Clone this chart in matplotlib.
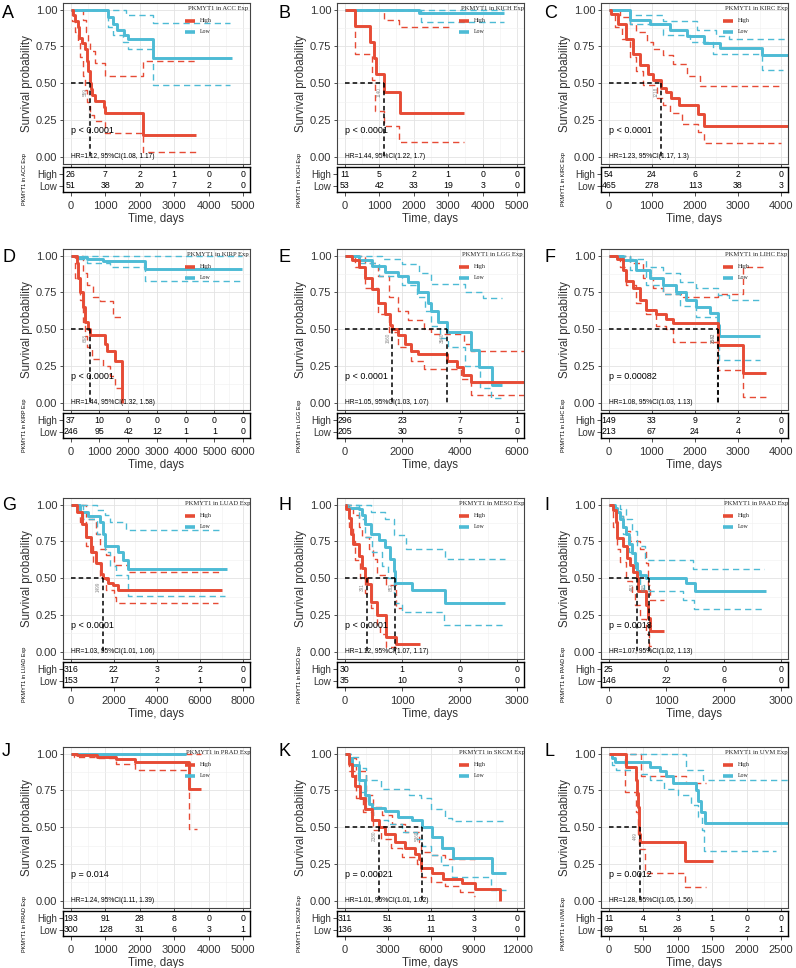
import matplotlib
matplotlib.use("Agg")
import matplotlib.pyplot as plt

plt.rcParams["font.family"] = ["Liberation Sans", "DejaVu Sans"]

RED = "#E64B35"
BLUE = "#4DBBD5"

# ---------------- data ----------------
# each curve: (time, survival) step points, last point = end of follow-up

# A  ACC
ACC_HIGH = [(0, 1.0), (60, 0.96), (130, 0.92), (200, 0.88), (250, 0.81), (330, 0.77), (400, 0.73),
            (460, 0.65), (510, 0.58), (550, 0.50), (590, 0.46), (630, 0.42), (700, 0.38), (960, 0.34),
            (1000, 0.30), (2110, 0.15), (3630, 0.15)]
ACC_HIGH_UP = [(0, 1.0), (360, 0.93), (430, 0.85), (500, 0.78), (560, 0.72), (700, 0.64), (990, 0.55),
               (2110, 0.65), (3630, 0.65)]
ACC_HIGH_LO = [(0, 1.0), (50, 0.92), (120, 0.85), (200, 0.78), (280, 0.68), (350, 0.55), (420, 0.45),
               (480, 0.37), (560, 0.28), (680, 0.24), (990, 0.16), (2110, 0.03), (3630, 0.03)]
ACC_LOW = [(0, 1.0), (1080, 0.95), (1230, 0.90), (1330, 0.86), (1550, 0.83), (1660, 0.80), (2400, 0.67),
           (4680, 0.67)]
ACC_LOW_UP = [(0, 1.0), (1600, 0.96), (2400, 0.91), (4620, 0.91)]
ACC_LOW_LO = [(0, 1.0), (1080, 0.88), (1230, 0.83), (1520, 0.78), (1660, 0.73), (2400, 0.49), (4620, 0.49)]
ACC_RISK_HIGH = [26, 7, 2, 1, 0, 0]
ACC_RISK_LOW = [51, 38, 20, 7, 2, 0]
ACC_MEDIANS = [559]

# B  KICH
KICH_HIGH = [(0, 1.0), (300, 0.89), (740, 0.78), (840, 0.67), (910, 0.56), (1140, 0.44), (1600, 0.30),
             (3470, 0.30)]
KICH_HIGH_UP = [(0, 1.0), (1140, 0.93), (1580, 0.88), (3080, 0.88)]
KICH_HIGH_LO = [(0, 1.0), (290, 0.70), (790, 0.52), (890, 0.31), (1140, 0.21), (1580, 0.10), (3470, 0.10)]
KICH_LOW = [(0, 1.0), (2160, 0.975), (4620, 0.975)]
KICH_LOW_UP = [(0, 1.0), (4620, 1.0)]
KICH_LOW_LO = [(0, 1.0), (2200, 0.915), (4620, 0.915)]
KICH_RISK_HIGH = [11, 5, 2, 1, 0, 0]
KICH_RISK_LOW = [53, 42, 33, 19, 3, 0]
KICH_MEDIANS = [1140]

# C  KIRC
KIRC_HIGH = [(0, 1.0), (60, 0.97), (220, 0.90), (410, 0.80), (570, 0.70), (720, 0.62), (920, 0.56),
             (1030, 0.52), (1220, 0.47), (1340, 0.44), (1450, 0.40), (1620, 0.35), (2080, 0.29),
             (2200, 0.21), (4220, 0.21)]
KIRC_HIGH_UP = [(0, 1.0), (250, 0.95), (490, 0.90), (640, 0.85), (880, 0.78), (1030, 0.73), (1260, 0.69),
                (1500, 0.63), (1810, 0.55), (2120, 0.48), (3990, 0.48)]
KIRC_HIGH_LO = [(0, 1.0), (140, 0.88), (300, 0.80), (490, 0.68), (640, 0.58), (800, 0.49), (1110, 0.40),
                (1260, 0.35), (1420, 0.30), (1690, 0.22), (2080, 0.165), (2200, 0.09), (3990, 0.09)]
KIRC_LOW = [(0, 1.0), (490, 0.93), (955, 0.90), (1420, 0.86), (1810, 0.82), (2200, 0.77), (2590, 0.74),
            (3560, 0.69), (4220, 0.69)]
KIRC_LOW_UP = [(0, 1.0), (490, 0.96), (1260, 0.92), (2040, 0.86), (2500, 0.82), (2800, 0.80), (4200, 0.80)]
KIRC_LOW_LO = [(0, 1.0), (490, 0.90), (1260, 0.83), (1880, 0.78), (2430, 0.70), (3560, 0.59), (4050, 0.59)]
KIRC_RISK_HIGH = [54, 24, 6, 2, 0]
KIRC_RISK_LOW = [465, 278, 113, 38, 3]
KIRC_MEDIANS = [1218]

# D  KIRP
KIRP_HIGH = [(0, 1.0), (210, 0.95), (265, 0.85), (320, 0.75), (415, 0.65), (510, 0.55), (610, 0.50),
             (670, 0.46), (1190, 0.40), (1250, 0.35), (1530, 0.28), (1800, 0.0)]
KIRP_HIGH_UP = [(0, 1.0), (440, 0.88), (560, 0.80), (760, 0.72), (1010, 0.69), (1470, 0.58), (1760, 0.58)]
KIRP_HIGH_LO = [(0, 1.0), (150, 0.85), (320, 0.70), (440, 0.55), (500, 0.45), (580, 0.38), (730, 0.30),
                (1130, 0.25), (1360, 0.18), (1530, 0.10), (1800, 0.0)]
KIRP_LOW = [(0, 1.0), (210, 0.99), (550, 0.98), (1130, 0.96), (2590, 0.91), (5970, 0.91)]
KIRP_LOW_UP = [(0, 1.0), (5970, 1.0)]
KIRP_LOW_LO = [(0, 1.0), (210, 0.98), (550, 0.95), (1360, 0.92), (2590, 0.83), (5970, 0.83)]
KIRP_RISK_HIGH = [37, 10, 0, 0, 0, 0, 0]
KIRP_RISK_LOW = [246, 95, 42, 12, 1, 1, 0]
KIRP_MEDIANS = [668]

# E  LGG
LGG_HIGH = [(0, 1.0), (250, 0.97), (480, 0.92), (710, 0.85), (940, 0.77), (1170, 0.68), (1400, 0.60),
            (1570, 0.53), (1660, 0.50), (1860, 0.46), (2090, 0.40), (2320, 0.35), (2550, 0.33),
            (3560, 0.28), (3900, 0.24), (4100, 0.19), (4390, 0.14), (6230, 0.14)]
LGG_HIGH_UP = [(0, 1.0), (710, 0.95), (1170, 0.86), (1530, 0.72), (1860, 0.62), (2200, 0.56), (2760, 0.50),
               (3000, 0.47), (4160, 0.40), (4390, 0.35), (6230, 0.35)]
LGG_HIGH_LO = [(0, 1.0), (370, 0.92), (710, 0.78), (1170, 0.60), (1530, 0.48), (1860, 0.38), (2320, 0.28),
               (2760, 0.23), (4050, 0.16), (4390, 0.05), (6230, 0.05)]
LGG_LOW = [(0, 1.0), (480, 0.97), (940, 0.93), (1400, 0.89), (1860, 0.86), (2200, 0.82), (2550, 0.75),
           (2900, 0.68), (3010, 0.62), (3240, 0.55), (3560, 0.48), (4390, 0.36), (4680, 0.24),
           (5140, 0.12), (5480, 0.12)]
LGG_LOW_UP = [(0, 1.0), (1300, 0.98), (2000, 0.94), (2600, 0.88), (3000, 0.81), (4200, 0.75), (4800, 0.71),
              (5480, 0.71)]
LGG_LOW_LO = [(0, 1.0), (500, 0.95), (1200, 0.86), (2000, 0.80), (2500, 0.72), (2800, 0.62), (3000, 0.52),
              (3300, 0.44), (3600, 0.38), (4200, 0.25), (4700, 0.10), (5100, 0.03), (5480, 0.03)]
LGG_RISK_HIGH = [296, 23, 7, 1]
LGG_RISK_LOW = [205, 30, 5, 0]
LGG_MEDIANS = [1660, 3560]

# F  LIHC
LIHC_HIGH = [(0, 1.0), (180, 0.98), (330, 0.90), (410, 0.83), (560, 0.78), (720, 0.70), (870, 0.63),
             (1100, 0.60), (1340, 0.57), (1490, 0.54), (2530, 0.39), (3110, 0.20), (3650, 0.20)]
LIHC_HIGH_UP = [(0, 1.0), (490, 0.95), (800, 0.85), (1030, 0.78), (1260, 0.74), (1720, 0.72), (2530, 0.74),
                (3110, 0.92), (3650, 0.92)]
LIHC_HIGH_LO = [(0, 1.0), (250, 0.92), (410, 0.80), (640, 0.68), (870, 0.60), (1100, 0.52), (1340, 0.50),
                (1490, 0.41), (2530, 0.22), (3110, 0.04), (3650, 0.04)]
LIHC_LOW = [(0, 1.0), (330, 0.97), (640, 0.90), (950, 0.85), (1260, 0.80), (1570, 0.75), (1800, 0.70),
            (2030, 0.65), (2340, 0.61), (2530, 0.53), (2570, 0.45), (3500, 0.45)]
LIHC_LOW_UP = [(0, 1.0), (490, 0.98), (870, 0.92), (1260, 0.88), (1650, 0.82), (2030, 0.78), (2530, 0.73),
               (2800, 0.70), (3500, 0.70)]
LIHC_LOW_LO = [(0, 1.0), (490, 0.90), (870, 0.80), (1260, 0.74), (1650, 0.66), (2030, 0.58), (2530, 0.42),
               (2570, 0.29), (3500, 0.29)]
LIHC_RISK_HIGH = [149, 33, 9, 2, 0]
LIHC_RISK_LOW = [213, 67, 24, 4, 0]
LIHC_MEDIANS = [2532, 2542]

# G  LUAD
LUAD_HIGH = [(0, 1.0), (275, 0.95), (500, 0.87), (730, 0.78), (960, 0.68), (1190, 0.60), (1420, 0.53),
             (1500, 0.50), (1730, 0.47), (1960, 0.45), (2190, 0.42), (7000, 0.42)]
LUAD_HIGH_UP = [(0, 1.0), (730, 0.90), (1190, 0.80), (1350, 0.70), (1650, 0.66), (2030, 0.59), (2650, 0.54),
                (7000, 0.54)]
LUAD_HIGH_LO = [(0, 1.0), (430, 0.88), (730, 0.72), (1040, 0.60), (1350, 0.50), (1650, 0.42), (2030, 0.37),
                (2100, 0.33), (6850, 0.33)]
LUAD_LOW = [(0, 1.0), (430, 0.95), (810, 0.92), (1345, 0.88), (1500, 0.80), (1600, 0.72), (2190, 0.68),
            (2420, 0.62), (2650, 0.56), (7230, 0.56)]
LUAD_LOW_UP = [(0, 1.0), (1200, 0.96), (1575, 0.93), (1800, 0.88), (2570, 0.83), (7000, 0.83)]
LUAD_LOW_LO = [(0, 1.0), (580, 0.90), (1200, 0.80), (1575, 0.68), (1800, 0.58), (2100, 0.52), (2650, 0.38),
               (7150, 0.38)]
LUAD_RISK_HIGH = [316, 22, 3, 2, 0]
LUAD_RISK_LOW = [153, 17, 2, 1, 0]
LUAD_MEDIANS = [1499]

# H  MESO
MESO_HIGH = [(0, 1.0), (30, 0.97), (70, 0.91), (100, 0.80), (140, 0.73), (240, 0.65), (300, 0.57),
             (360, 0.50), (390, 0.46), (460, 0.34), (560, 0.25), (720, 0.10), (900, 0.05), (1310, 0.05)]
MESO_HIGH_UP = [(0, 1.0), (140, 0.93), (240, 0.85), (300, 0.78), (420, 0.70), (490, 0.63), (560, 0.52),
                (720, 0.45), (900, 0.30), (1000, 0.30)]
MESO_HIGH_LO = [(0, 1.0), (70, 0.85), (140, 0.75), (180, 0.62), (270, 0.50), (360, 0.40), (460, 0.30),
                (560, 0.18), (620, 0.12), (720, 0.03), (900, 0.03)]
MESO_LOW = [(0, 1.0), (40, 0.98), (240, 0.97), (300, 0.93), (360, 0.87), (450, 0.80), (590, 0.76),
            (705, 0.71), (790, 0.63), (850, 0.55), (880, 0.47), (1170, 0.42), (1745, 0.33), (2790, 0.33)]
MESO_LOW_UP = [(0, 1.0), (450, 0.95), (705, 0.90), (850, 0.79), (1060, 0.70), (1745, 0.63), (2790, 0.63)]
MESO_LOW_LO = [(0, 1.0), (240, 0.90), (360, 0.78), (475, 0.68), (650, 0.58), (760, 0.50), (850, 0.40),
               (880, 0.33), (1000, 0.27), (1720, 0.18), (2790, 0.18)]
MESO_RISK_HIGH = [30, 1, 0, 0]
MESO_RISK_LOW = [35, 10, 3, 0]
MESO_MEDIANS = [391, 882]

# I  PAAD
PAAD_HIGH = [(0, 1.0), (75, 0.96), (120, 0.88), (145, 0.77), (250, 0.72), (310, 0.64), (365, 0.59),
             (420, 0.54), (490, 0.50), (510, 0.41), (650, 0.32), (680, 0.23), (720, 0.14), (970, 0.14)]
PAAD_HIGH_UP = [(0, 1.0), (130, 0.92), (250, 0.82), (365, 0.75), (540, 0.70), (650, 0.60), (690, 0.45),
                (720, 0.35), (970, 0.35)]
PAAD_HIGH_LO = [(0, 1.0), (80, 0.85), (150, 0.70), (200, 0.61), (300, 0.48), (400, 0.40), (450, 0.32),
                (550, 0.22), (650, 0.12), (700, 0.04), (770, 0.04)]
PAAD_LOW = [(0, 1.0), (100, 0.98), (150, 0.95), (200, 0.90), (250, 0.85), (300, 0.80), (350, 0.73),
            (400, 0.67), (450, 0.60), (500, 0.55), (550, 0.52), (650, 0.50), (1350, 0.47), (1500, 0.41),
            (2740, 0.41)]
PAAD_LOW_UP = [(0, 1.0), (200, 0.97), (300, 0.90), (400, 0.82), (500, 0.72), (625, 0.62), (1460, 0.56),
               (2700, 0.56)]
PAAD_LOW_LO = [(0, 1.0), (150, 0.92), (250, 0.80), (350, 0.68), (450, 0.55), (550, 0.45), (620, 0.41),
               (1290, 0.35), (1490, 0.29), (2700, 0.29)]
PAAD_RISK_HIGH = [25, 0, 0, 0]
PAAD_RISK_LOW = [146, 22, 6, 0]
PAAD_MEDIANS = [483, 695]

# J  PRAD
PRAD_HIGH = [(0, 1.0), (170, 0.99), (750, 0.98), (1320, 0.96), (1850, 0.94), (3440, 0.76), (3770, 0.76)]
PRAD_HIGH_UP = [(0, 1.0), (3770, 1.0)]
PRAD_HIGH_LO = [(0, 1.0), (100, 0.98), (800, 0.97), (1300, 0.93), (1850, 0.89), (3440, 0.49), (3650, 0.49)]
PRAD_LOW = [(0, 1.0), (3340, 1.0)]
PRAD_LOW_UP = [(0, 1.0), (3340, 1.0)]
PRAD_LOW_LO = [(0, 1.0), (900, 0.995), (3340, 0.995)]
PRAD_RISK_HIGH = [193, 91, 28, 8, 0, 0]
PRAD_RISK_LOW = [300, 128, 31, 6, 3, 1]
PRAD_MEDIANS = []

# K  SKCM
SKCM_HIGH = [(0, 1.0), (280, 0.93), (510, 0.85), (740, 0.78), (1090, 0.70), (1430, 0.62), (1900, 0.55),
             (2380, 0.50), (2820, 0.45), (3510, 0.40), (4210, 0.36), (4900, 0.32), (5180, 0.28),
             (5290, 0.22), (6060, 0.19), (6870, 0.15), (8140, 0.12), (9060, 0.08), (10800, 0.0)]
SKCM_HIGH_UP = [(0, 1.0), (300, 0.97), (800, 0.88), (1500, 0.72), (2000, 0.64), (2600, 0.58), (3300, 0.52),
                (4200, 0.47), (5200, 0.40), (5300, 0.33), (6100, 0.31), (7000, 0.28), (9060, 0.28)]
SKCM_HIGH_LO = [(0, 1.0), (300, 0.88), (800, 0.70), (1300, 0.60), (2000, 0.48), (2500, 0.42), (3200, 0.36),
                (4000, 0.30), (5000, 0.25), (5300, 0.16), (6000, 0.13), (7000, 0.10), (8000, 0.06),
                (9000, 0.03), (9060, 0.03)]
SKCM_LOW = [(0, 1.0), (280, 0.97), (510, 0.92), (970, 0.82), (1430, 0.72), (1660, 0.66), (1900, 0.63),
            (2820, 0.61), (3740, 0.57), (4670, 0.55), (5360, 0.50), (6060, 0.43), (6750, 0.36),
            (7560, 0.29), (10220, 0.19), (11260, 0.19)]
SKCM_LOW_UP = [(0, 1.0), (500, 0.98), (1000, 0.90), (1500, 0.82), (2500, 0.76), (4500, 0.72), (5300, 0.70),
               (6000, 0.62), (7000, 0.56), (7500, 0.54), (11200, 0.54)]
SKCM_LOW_LO = [(0, 1.0), (500, 0.87), (1000, 0.74), (1500, 0.62), (2000, 0.55), (3000, 0.52), (4000, 0.47),
               (5000, 0.42), (5400, 0.37), (6000, 0.31), (6700, 0.24), (7500, 0.16), (10200, 0.07),
               (11200, 0.07)]
SKCM_RISK_HIGH = [311, 51, 11, 3, 0]
SKCM_RISK_LOW = [136, 36, 11, 3, 0]
SKCM_MEDIANS = [2380, 5360]

# L  UVM
UVM_HIGH = [(0, 1.0), (245, 0.91), (400, 0.82), (410, 0.73), (425, 0.64), (435, 0.55), (445, 0.45),
            (460, 0.40), (1100, 0.27), (1510, 0.27)]
UVM_HIGH_UP = [(0, 1.0), (470, 0.85), (1125, 0.80), (1410, 0.80)]
UVM_HIGH_LO = [(0, 1.0), (230, 0.74), (400, 0.60), (420, 0.45), (440, 0.35), (520, 0.19), (1100, 0.09),
               (1410, 0.09)]
UVM_LOW = [(0, 1.0), (40, 0.97), (90, 0.94), (595, 0.91), (740, 0.88), (835, 0.85), (930, 0.80),
           (1260, 0.75), (1300, 0.68), (1340, 0.60), (1390, 0.53), (2620, 0.53)]
UVM_LOW_UP = [(0, 1.0), (1125, 0.89), (1370, 0.82), (2620, 0.82)]
UVM_LOW_LO = [(0, 1.0), (40, 0.92), (100, 0.89), (400, 0.86), (600, 0.82), (800, 0.76), (1000, 0.72),
              (1200, 0.65), (1300, 0.57), (1350, 0.48), (1380, 0.34), (2430, 0.34)]
UVM_RISK_HIGH = [11, 4, 3, 1, 0, 0]
UVM_RISK_LOW = [69, 51, 26, 5, 2, 1]
UVM_MEDIANS = [449]

LETTERS = ["A", "B", "C", "D", "E", "F", "G", "H", "I", "J", "K", "L"]
CANCERS = ["ACC", "KICH", "KIRC", "KIRP", "LGG", "LIHC", "LUAD", "MESO", "PAAD", "PRAD", "SKCM", "UVM"]
X_MAX = [5000, 5000, 4000, 6000, 6000, 4000, 8000, 3000, 3000, 5000, 12000, 2500]
X_STEP = [1000, 1000, 1000, 1000, 2000, 1000, 2000, 1000, 1000, 1000, 3000, 500]
P_TEXT = ["p < 0.0001", "p < 0.0001", "p < 0.0001", "p < 0.0001", "p < 0.0001", "p = 0.00082",
          "p < 0.0001", "p < 0.0001", "p = 0.0018", "p = 0.014", "p = 0.00021", "p = 0.0012"]
HR_TEXT = ["HR=1.12, 95%CI(1.08, 1.17)", "HR=1.44, 95%CI(1.22, 1.7)", "HR=1.23, 95%CI(1.17, 1.3)",
           "HR=1.44, 95%CI(1.32, 1.58)", "HR=1.05, 95%CI(1.03, 1.07)", "HR=1.08, 95%CI(1.03, 1.13)",
           "HR=1.03, 95%CI(1.01, 1.06)", "HR=1.12, 95%CI(1.07, 1.17)", "HR=1.07, 95%CI(1.02, 1.13)",
           "HR=1.24, 95%CI(1.11, 1.39)", "HR=1.01, 95%CI(1.01, 1.02)", "HR=1.28, 95%CI(1.05, 1.56)"]

g = globals()
PANELS = []
for letter, name, xmax, xstep, ptxt, hrtxt in zip(LETTERS, CANCERS, X_MAX, X_STEP, P_TEXT, HR_TEXT):
    PANELS.append(dict(
        letter=letter, name=name, xmax=xmax, xstep=xstep, p=ptxt, hr=hrtxt,
        high=g[name + "_HIGH"], high_up=g[name + "_HIGH_UP"], high_lo=g[name + "_HIGH_LO"],
        low=g[name + "_LOW"], low_up=g[name + "_LOW_UP"], low_lo=g[name + "_LOW_LO"],
        risk_high=g[name + "_RISK_HIGH"], risk_low=g[name + "_RISK_LOW"],
        medians=g[name + "_MEDIANS"],
    ))

# ---------------- layout (pixels) ----------------
W, H = 796, 968
COL_X = [63, 337, 601]
ROW_Y = [3, 249, 498, 747]
PW, PH = 187, 161
TAB_GAP, TAB_H = 3, 25
LETTER_X = [2, 278, 544]
LETTER_Y = [14, 257, 505, 752]


def fig_rect(x, y, w, h):
    return [x / W, 1 - (y + h) / H, w / W, h / H]


def km_step(ax, pts, color, lw, ls="-"):
    t = [p[0] for p in pts]
    s = [p[1] for p in pts]
    ax.step(t, s, where="post", color=color, lw=lw, linestyle=ls,
            solid_capstyle="butt", dash_capstyle="butt")


def draw_panel(fig, panel, col, row):
    cx, ry = COL_X[col], ROW_Y[row]
    xmax, xstep = panel["xmax"], panel["xstep"]
    breaks = list(range(0, xmax + 1, xstep))
    minors = [b + xstep / 2 for b in breaks[:-1]]
    xlim = (-0.045 * xmax, 1.04 * xmax)

    # Main survival plot
    ax = fig.add_axes(fig_rect(cx, ry, PW, PH))
    ax.set_xlim(*xlim)
    ax.set_ylim(-0.05, 1.045)
    ax.set_xticks(breaks)
    ax.set_xticks(minors, minor=True)
    ax.set_yticks([0, 0.25, 0.5, 0.75, 1.0])
    ax.set_yticks([0.125, 0.375, 0.625, 0.875], minor=True)
    ax.set_yticklabels(["0.00", "0.25", "0.50", "0.75", "1.00"])
    ax.grid(which="major", color="#E3E3E3", lw=0.6)
    ax.grid(which="minor", color="#F1F1F1", lw=0.45)
    ax.set_axisbelow(True)
    ax.tick_params(axis="both", which="minor", length=0)
    ax.tick_params(axis="y", labelsize=8, length=2.5, width=0.6, color="#333333",
                   labelcolor="#333333", pad=1.5)
    ax.tick_params(axis="x", labelbottom=False, length=2.5, width=0.6, color="#333333")
    for sp in ax.spines.values():
        sp.set_color("#444444")
        sp.set_linewidth(0.8)
    ax.set_ylabel("Survival probability", fontsize=8.3, color="#333333", labelpad=2)

    dash = (0, (4.5, 3))
    km_step(ax, panel["high_up"], RED, 1.0, dash)
    km_step(ax, panel["high_lo"], RED, 1.0, dash)
    km_step(ax, panel["low_up"], BLUE, 1.0, dash)
    km_step(ax, panel["low_lo"], BLUE, 1.0, dash)
    km_step(ax, panel["low"], BLUE, 2.1)
    km_step(ax, panel["high"], RED, 2.1)

    # Median survival lines
    if panel["medians"]:
        mdash = (0, (3, 2))
        ax.plot([0, max(panel["medians"])], [0.5, 0.5], color="black", lw=1.1, linestyle=mdash)
        for m in panel["medians"]:
            ax.plot([m, m], [0.5, 0.0], color="black", lw=1.1, linestyle=mdash)
            ax.text(m - 0.012 * xmax, 0.44, str(m), rotation=90, fontsize=3.3, color="#888888",
                    ha="right", va="center")

    ax.text(0.045, 0.21, panel["p"], transform=ax.transAxes, fontsize=6.5, va="center")
    ax.text(0.045, 0.046, panel["hr"], transform=ax.transAxes, fontsize=4.8, va="center")

    # Legend
    ax.text(0.83, 0.965, "PKMYT1 in {} Exp".format(panel["name"]), transform=ax.transAxes,
            ha="center", va="center", fontsize=4.8, family="Liberation Serif", color="#222222")
    for yy, col_, lab in [(0.89, RED, "High"), (0.82, BLUE, "Low")]:
        ax.plot([0.655, 0.705], [yy, yy], transform=ax.transAxes, color=col_, lw=2.6,
                solid_capstyle="butt")
        ax.text(0.73, yy, lab, transform=ax.transAxes, va="center", fontsize=4.2,
                family="Liberation Serif", color="#222222")

    # Risk table
    tab = fig.add_axes(fig_rect(cx, ry + PH + TAB_GAP, PW, TAB_H))
    tab.set_xlim(*xlim)
    tab.set_ylim(-0.57, 1.66)
    for b, n in zip(breaks, panel["risk_high"]):
        tab.text(b, 1, str(n), ha="center", va="center", fontsize=6.3)
    for b, n in zip(breaks, panel["risk_low"]):
        tab.text(b, 0, str(n), ha="center", va="center", fontsize=6.3)
    tab.set_yticks([1, 0])
    tab.set_yticklabels(["High", "Low"])
    tab.set_xticks(breaks)
    tab.set_xticklabels([str(b) for b in breaks])
    tab.tick_params(axis="y", labelsize=7, length=3, width=0.6, pad=1, color="#333333",
                    labelcolor="#333333")
    tab.tick_params(axis="x", labelsize=8, length=3, width=0.6, pad=3.5, color="#333333",
                    labelcolor="#333333")
    for sp in tab.spines.values():
        sp.set_color("black")
        sp.set_linewidth(1.0)
    tab.set_xlabel("Time, days", fontsize=8.3, color="#333333", labelpad=1.5)

    fig.text((cx - 38) / W, 1 - (ry + PH + TAB_GAP + TAB_H / 2) / H,
             "PKMYT1 in {} Exp".format(panel["name"]), rotation=90, fontsize=4,
             ha="center", va="center")

    fig.text(LETTER_X[col] / W, 1 - LETTER_Y[row] / H, panel["letter"], fontsize=13,
             ha="left", va="center")


fig = plt.figure(figsize=(W / 100, H / 100), dpi=100)
for i, panel in enumerate(PANELS):
    draw_panel(fig, panel, i % 3, i // 3)

fig.savefig("out.png", dpi=100)
